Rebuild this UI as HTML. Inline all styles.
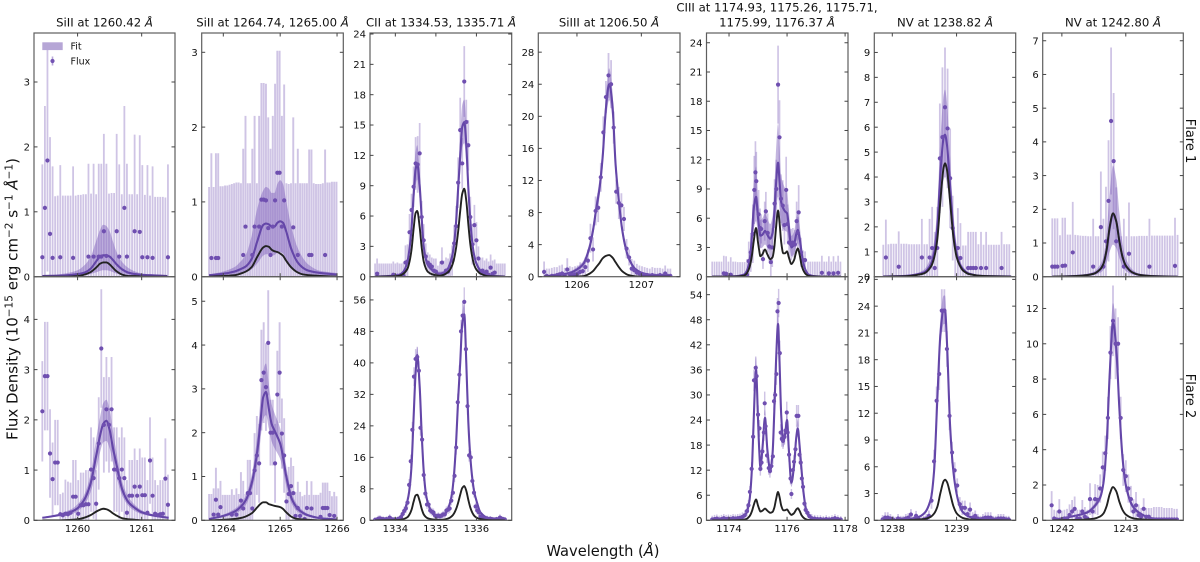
<!DOCTYPE html>
<html lang="en">
<head>
<meta charset="utf-8">
<title>Flare line profiles</title>
<style>
html,body{margin:0;padding:0;background:#fff;}
svg{display:block;font-family:"DejaVu Sans","Liberation Sans",sans-serif;filter:blur(.3px);}
.ttl{font-size:11.7px;text-anchor:middle;fill:#111;}
.lab{fill:#111;}
.tick{font-size:10px;fill:#111;}
</style>
</head>
<body>
<svg id="chart" xmlns="http://www.w3.org/2000/svg" width="1200" height="562" viewBox="0 0 1200 562">
<rect x="0" y="0" width="1200" height="562" fill="#fff"/>
<g id="panels"></g>
<text class="ttl" x="104.5" y="26.5">SiII at 1260.42 <tspan font-style="italic">Å</tspan></text>
<text class="ttl" x="272.5" y="26.5">SiII at 1264.74, 1265.00 <tspan font-style="italic">Å</tspan></text>
<text class="ttl" x="441" y="26.5">CII at 1334.53, 1335.71 <tspan font-style="italic">Å</tspan></text>
<text class="ttl" x="609" y="26.5">SiIII at 1206.50 <tspan font-style="italic">Å</tspan></text>
<text class="ttl" x="777" y="11.5">CIII at 1174.93, 1175.26, 1175.71,</text>
<text class="ttl" x="777" y="26.5">1175.99, 1176.37 <tspan font-style="italic">Å</tspan></text>
<text class="ttl" x="945" y="26.5">NV at 1238.82 <tspan font-style="italic">Å</tspan></text>
<text class="ttl" x="1113" y="26.5">NV at 1242.80 <tspan font-style="italic">Å</tspan></text>
<text class="lab" font-size="15" text-anchor="middle" transform="translate(17.5,299) rotate(-90)">Flux Density (10<tspan dy="-5" font-size="10.5">−15</tspan><tspan dy="5"> erg cm</tspan><tspan dy="-5" font-size="10.5">−2</tspan><tspan dy="5"> s</tspan><tspan dy="-5" font-size="10.5">−1</tspan><tspan dy="5"> </tspan><tspan font-style="italic">Å</tspan><tspan dy="-5" font-size="10.5">−1</tspan><tspan dy="5">)</tspan></text>
<text class="lab" font-size="14.65" text-anchor="middle" x="603" y="556">Wavelength (<tspan font-style="italic">Å</tspan>)</text>
<text class="lab" font-size="13" text-anchor="middle" transform="translate(1186,141) rotate(90)">Flare 1</text>
<text class="lab" font-size="13" text-anchor="middle" transform="translate(1186,396) rotate(90)">Flare 2</text>
<g>
<rect x="42.3" y="42.3" width="20.4" height="7.8" fill="#b6a6d6"/>
<text x="70.5" y="49.5" font-size="9.5" fill="#111">Fit</text>
<line x1="52.5" x2="52.5" y1="56.5" y2="65.5" stroke="#b9a9d8" stroke-width="1.6"/>
<circle cx="52.5" cy="61" r="2.1" fill="#7353b3"/>
<text x="70.5" y="64.5" font-size="9.5" fill="#111">Flux</text>
</g>
</svg>
<script>
/* ---------- Flare 1, SiII 1260.42 ---------- */
const r1p1Wave=[1259.45,1259.49,1259.53,1259.57,1259.61,1259.65,1259.69,1259.73,1259.77,1259.81,1259.85,1259.89,1259.93,1259.97,1260.01,1260.05,1260.09,1260.13,1260.17,1260.21,1260.25,1260.29,1260.33,1260.37,1260.41,1260.45,1260.49,1260.53,1260.57,1260.61,1260.65,1260.69,1260.73,1260.77,1260.81,1260.85,1260.89,1260.93,1260.97,1261.01,1261.05,1261.09,1261.13,1261.17,1261.21,1261.25,1261.29,1261.33,1261.37,1261.41];
const r1p1Flux=[.3,1.06,1.79,.66,.29,0,0,.3,0,0,0,0,.29,0,0,0,0,0,.31,0,.31,0,.31,.31,.7,.32,0,0,0,.7,.31,0,1.06,.31,0,0,.7,0,.69,.3,0,.3,0,.29,0,0,0,0,0,.3];
const r1p1Err=[1.43,1.57,1.71,1.49,1.41,1.24,1.25,1.42,1.25,1.25,1.25,1.25,1.41,1.25,1.26,1.26,1.27,1.27,1.43,1.28,1.43,1.27,1.43,1.43,1.5,1.42,1.28,1.29,1.29,1.5,1.42,1.27,1.57,1.43,1.27,1.27,1.49,1.27,1.49,1.42,1.26,1.42,1.25,1.41,1.23,1.23,1.23,1.23,1.22,1.43];
const r1p1FitWave=[1259.45,1259.8,1260,1260.1,1260.2,1260.3,1260.35,1260.4,1260.45,1260.5,1260.55,1260.6,1260.7,1260.8,1260.9,1261,1261.2,1261.4];
const r1p1Fit=[.01,.02,.04,.06,.12,.25,.31,.33,.33,.31,.26,.2,.11,.06,.04,.03,.02,.01];
const r1p1Hi=[.01,.05,.1,.17,.3,.58,.72,.8,.78,.7,.55,.4,.22,.13,.08,.05,.03,.02];
const r1p1Lo=[0,0,.01,.02,.04,.07,.09,.1,.1,.09,.07,.05,.03,.02,.01,0,0,0];
const r1p1Black=[0,0,.01,.03,.07,.15,.2,.22,.22,.19,.14,.09,.03,.01,.01,0,0,0];
/* ---------- Flare 1, SiII 1264.74/1265.00 ---------- */
const r1p2Wave=[1263.75,1263.79,1263.83,1263.87,1263.91,1263.95,1263.99,1264.03,1264.07,1264.11,1264.15,1264.19,1264.23,1264.27,1264.31,1264.35,1264.39,1264.43,1264.47,1264.51,1264.55,1264.59,1264.63,1264.67,1264.71,1264.75,1264.79,1264.83,1264.87,1264.91,1264.95,1264.99,1265.03,1265.07,1265.11,1265.15,1265.19,1265.23,1265.27,1265.31,1265.35,1265.39,1265.43,1265.47,1265.51,1265.55,1265.59,1265.63,1265.67,1265.71,1265.75,1265.79,1265.83,1265.87,1265.91,1265.95,1265.99];
const r1p2Flux=[0,.25,0,.25,.25,0,0,0,0,0,0,0,0,0,0,.29,.67,0,0,.29,.67,0,.67,1.03,1.03,1.02,.65,.29,.67,1.02,1.39,1.39,.67,1.02,0,0,0,.66,0,.29,0,0,0,0,.29,.29,0,0,0,0,0,.29,0,0,0,0,0];
const r1p2Err=[1.2,1.4,1.2,1.4,1.4,1.21,1.21,1.22,1.22,1.23,1.24,1.25,1.26,1.26,1.25,1.42,1.48,1.25,1.25,1.42,1.48,1.25,1.48,1.56,1.56,1.56,1.48,1.42,1.48,1.56,1.63,1.63,1.48,1.55,1.25,1.24,1.25,1.47,1.25,1.42,1.25,1.25,1.25,1.25,1.41,1.41,1.25,1.24,1.24,1.24,1.25,1.41,1.26,1.26,1.27,1.27,1.27];
const r1p2FitWave=[1263.75,1264,1264.2,1264.3,1264.4,1264.5,1264.6,1264.7,1264.75,1264.8,1264.85,1264.9,1264.95,1265,1265.05,1265.1,1265.2,1265.3,1265.4,1265.5,1265.7,1265.99];
const r1p2Fit=[.02,.04,.07,.1,.14,.24,.48,.69,.71,.7,.67,.67,.72,.74,.72,.62,.36,.2,.12,.08,.05,.03];
const r1p2Hi=[.03,.07,.13,.2,.3,.55,.92,1.15,1.2,1.18,1.12,1.12,1.24,1.29,1.24,1.04,.66,.4,.25,.16,.08,.05];
const r1p2Lo=[.01,.02,.03,.04,.06,.1,.18,.28,.3,.3,.28,.29,.32,.33,.31,.24,.13,.07,.04,.03,.01,.01];
const r1p2Black=[0,.01,.02,.04,.07,.13,.27,.39,.41,.4,.36,.34,.33,.31,.28,.22,.12,.06,.03,.02,.01,0];
/* ---------- CII shared model grid ---------- */
const c2FitWave=[1333.5,1334,1334.1,1334.2,1334.3,1334.35,1334.4,1334.45,1334.5,1334.54,1334.6,1334.65,1334.7,1334.75,1334.8,1334.9,1335,1335.1,1335.2,1335.3,1335.35,1335.4,1335.45,1335.5,1335.55,1335.6,1335.65,1335.7,1335.75,1335.8,1335.85,1335.9,1335.95,1336,1336.1,1336.3,1336.7];
const c2Black=[0,.05,.1,.3,.8,1.5,2.7,4.7,6.3,6.5,4.9,2.9,1.5,.85,.5,.25,.15,.1,.2,.45,.7,1.1,1.8,2.9,4.5,6.5,8.2,8.7,7.5,5.2,3.2,1.9,1.1,.7,.3,.05,0];
/* ---------- Flare 1, CII ---------- */
const r1p3Wave=[1333.5,1333.55,1333.6,1333.65,1333.7,1333.75,1333.8,1333.85,1333.9,1333.95,1334,1334.05,1334.1,1334.15,1334.2,1334.25,1334.3,1334.35,1334.4,1334.45,1334.5,1334.55,1334.6,1334.65,1334.7,1334.75,1334.8,1334.85,1334.9,1334.95,1335,1335.05,1335.1,1335.15,1335.2,1335.25,1335.3,1335.35,1335.4,1335.45,1335.5,1335.55,1335.6,1335.65,1335.7,1335.75,1335.8,1335.85,1335.9,1335.95,1336,1336.05,1336.1,1336.15,1336.2,1336.25,1336.3,1336.35,1336.4,1336.45,1336.5,1336.55,1336.6,1336.65,1336.7];
const r1p3Flux=[0,.3,0,0,0,0,0,0,0,.2,0,.1,0,0,.1,1.4,1.5,4.4,6.6,8.9,11.2,11.1,12.2,5.9,3.6,2,1.4,1.2,1,.6,.5,.1,.2,1.4,.3,.6,.5,1,1.6,3.3,5,9.3,14.5,11.2,19.3,15.3,13,5.9,3.2,5.1,3.6,1.8,.5,.6,.3,.5,.2,.9,.3,.4,0,0,0,0,0];
const r1p3Err=[1.3,1.5,1.3,1.3,1.3,1.3,1.3,1.3,1.3,1.3,1.3,1.3,1.3,1.3,1.3,1.7,1.7,1.8,1.6,2,2.6,2.8,3,1.6,1.6,1.3,1,1,.9,1.2,1.3,1,1.3,1.5,1.3,1.3,1.3,1.3,1.5,1.8,2,2.5,3.2,2.5,3.5,2.2,2.5,2,2,2,1.8,1.2,1.3,1.3,1.3,1.3,1.3,1.3,1.3,1.3,1.3,1.3,1.3,1.3,1.3];
const r1p3Fit=[.02,.1,.2,.5,1.5,2.8,4.8,8,10.6,11.2,9,5.8,3,1.8,1.2,.7,.4,.3,.4,.8,1.3,2,3.3,5.5,8.8,12,14.8,15.3,13,8.8,5.5,3.3,2,1.3,.6,.1,.02];
const r1p3Hi=[.04,.2,.3,.7,1.9,3.4,5.7,9.5,12.4,13,10.6,6.9,3.6,2.2,1.5,.9,.6,.5,.6,1.1,1.7,2.5,4,6.5,10.2,13.8,17,17.5,15,10.2,6.4,3.9,2.4,1.6,.8,.2,.04];
const r1p3Lo=[0,.05,.1,.35,1.2,2.3,4,6.7,9,9.6,7.6,4.8,2.5,1.4,.9,.5,.25,.15,.25,.55,1,1.6,2.7,4.6,7.5,10.3,12.8,13.2,11.1,7.5,4.6,2.7,1.6,1,.4,.05,.01];
/* ---------- Flare 1, SiIII ---------- */
const r1p4Wave=[1205.49,1205.53,1205.57,1205.61,1205.65,1205.69,1205.73,1205.77,1205.81,1205.85,1205.89,1205.93,1205.97,1206.01,1206.05,1206.09,1206.13,1206.17,1206.21,1206.25,1206.29,1206.33,1206.37,1206.41,1206.45,1206.49,1206.53,1206.57,1206.61,1206.65,1206.69,1206.73,1206.77,1206.81,1206.85,1206.89,1206.93,1206.97,1207.01,1207.05,1207.09,1207.13,1207.17,1207.21,1207.25,1207.29,1207.33,1207.37,1207.41,1207.45];
const r1p4Flux=[.6,.1,0,.1,.1,.2,.3,.4,.1,.9,.3,.2,.3,.4,.6,.7,1.2,2,4.8,3.4,8.2,8.6,12.4,18,22.4,25.1,24,18.6,10.6,9.2,8.9,7.2,3.5,2.4,1,.8,.5,.4,.3,.2,.2,.1,.2,.1,.1,.2,.1,.4,.1,.1];
const r1p4Err=[1.3,.9,1,1,1.1,1,1.1,1.1,1,1.4,1,1,1,1,1.2,1,1.2,1.4,1.8,1.5,1.8,1.8,1.8,2,2,2.8,3,2,1.5,2,1.5,1.5,1.2,1,1.2,1.2,1.1,1,1,1,.9,.9,1,1,1,.9,.9,1,.9,.9];
const r1p4FitWave=[1205.49,1205.7,1205.9,1206,1206.1,1206.2,1206.25,1206.3,1206.35,1206.4,1206.45,1206.5,1206.55,1206.6,1206.65,1206.7,1206.75,1206.8,1206.9,1207,1207.1,1207.3,1207.45];
const r1p4Fit=[.05,.2,.5,.9,1.6,3.8,5.8,8.5,11,15,21,24,21.5,14,9.5,6,3.8,2.4,1,.5,.3,.1,.05];
const r1p4Hi=[.08,.3,.7,1.2,2,4.4,6.6,9.5,12.2,16.5,22.7,26,23.3,15.5,10.5,6.8,4.4,2.8,1.2,.65,.4,.15,.08];
const r1p4Lo=[.03,.12,.35,.65,1.25,3.2,5.1,7.6,9.9,13.6,19.4,22,19.8,12.6,8.5,5.3,3.3,2,.8,.38,.2,.06,.02];
const r1p4Black=[0,0,0,.01,.06,.4,.7,1.2,1.7,2.3,2.6,2.7,2.4,1.8,1.2,.7,.4,.2,.05,0,0,0,0];
/* ---------- CIII shared model grid ---------- */
const c3FitWave=[1173.42,1174.2,1174.5,1174.6,1174.7,1174.75,1174.8,1174.85,1174.93,1175,1175.04,1175.08,1175.15,1175.24,1175.32,1175.42,1175.5,1175.56,1175.62,1175.69,1175.74,1175.8,1175.87,1175.93,1176,1176.06,1176.15,1176.24,1176.32,1176.37,1176.43,1176.5,1176.57,1176.65,1176.75,1176.9,1177.2,1177.85];
const c3Black=[0,.01,.1,.3,.9,1.5,2.4,3.6,5,3.5,2.7,2.1,2.3,2.8,2.3,1.8,2,3,5,6.8,5.6,3.5,2.4,2.4,2.6,2,1.3,1.7,2.6,2.9,2.3,1.2,.6,.25,.08,.02,0,0];
/* ---------- Flare 1, CIII ---------- */
const r1p5Wave=[1173.42,1173.5,1173.58,1173.66,1173.74,1173.82,1173.9,1173.98,1174.06,1174.14,1174.22,1174.3,1174.38,1174.46,1174.54,1174.62,1174.68,1174.75,1174.82,1174.87,1174.91,1174.94,1175.02,1175.07,1175.11,1175.17,1175.23,1175.27,1175.33,1175.39,1175.44,1175.49,1175.57,1175.63,1175.69,1175.74,1175.79,1175.85,1175.91,1175.97,1176.02,1176.07,1176.14,1176.2,1176.27,1176.33,1176.37,1176.4,1176.48,1176.55,1176.62,1176.72,1176.8,1176.88,1176.96,1177.04,1177.12,1177.2,1177.28,1177.36,1177.44,1177.52,1177.6,1177.68,1177.76,1177.84];
const r1p5Flux=[0,0,0,0,0,.35,.3,0,.2,0,0,0,0,0,0,.2,1.6,2.5,4.4,8.9,10.7,9.8,6.4,5,4.9,1.8,5.7,6.7,4.5,3.1,1.5,3,7.5,9,19.7,14.3,8,7.3,5.3,8.9,5.4,3.5,3.3,3.5,3.3,5.7,4.5,6.6,2.5,1.7,1.7,0,0,0,0,0,0,.4,0,0,.35,0,.35,0,.4,0];
const r1p5Err=[1.55,1.55,1.55,1.55,1.55,1.8,1.8,1.55,1.8,1.55,1.55,1.5,1.5,1.5,1.5,1.6,2,2,3,3.5,3.2,3,2.5,2,1.5,1,2,2,2,1.5,1.5,2,2.5,3,4,3.8,2.5,2.6,2,3.4,2,1.6,1.6,1.5,1.5,2,1.6,2.8,1.5,1,.9,1.55,1.55,1.55,1.55,1.55,1.55,1.75,1.55,1.55,1.75,1.55,1.75,1.55,1.75,1.55];
const r1p5Fit=[.01,.05,.2,.5,1.5,2.7,4.7,6.9,8.2,6,5,4.2,4.3,4.7,4.3,3.9,4.5,6.5,9.5,11.7,9.8,7.6,7,6.7,6.5,5.2,3,3.3,4.4,4.8,4,2.5,1.3,.6,.2,.07,.02,.01];
const r1p5Hi=[.02,.08,.3,.8,2.2,3.9,6.6,9.5,11.3,8.2,6.9,5.8,6,6.5,6,5.4,6.2,9,13,15.7,13.3,10.3,9.5,9.1,8.8,7,4.2,4.6,6,6.5,5.4,3.4,1.8,.8,.3,.1,.03,.01];
const r1p5Lo=[0,.03,.14,.35,1,1.9,3.3,4.8,5.7,4.2,3.5,2.9,3,3.3,3,2.7,3.2,4.6,6.7,8.2,6.9,5.3,4.9,4.7,4.6,3.6,2.1,2.3,3.1,3.4,2.8,1.8,.9,.4,.14,.05,.01,0];
/* ---------- NV 1238 shared model grid ---------- */
const n1FitWave=[1237.86,1238.2,1238.4,1238.5,1238.6,1238.65,1238.7,1238.75,1238.8,1238.82,1238.85,1238.9,1238.95,1239,1239.05,1239.1,1239.2,1239.4,1239.85];
const n1Black=[0,.02,.08,.14,.4,.75,1.5,3.1,4.4,4.55,4.3,3,1.6,.8,.45,.25,.1,.03,0];
/* ---------- Flare 1, NV 1238.82 ---------- */
const r1p6Wave=[1237.86,1237.9,1237.94,1237.98,1238.02,1238.06,1238.1,1238.14,1238.18,1238.22,1238.26,1238.3,1238.34,1238.38,1238.42,1238.46,1238.5,1238.54,1238.58,1238.62,1238.66,1238.7,1238.74,1238.78,1238.82,1238.86,1238.9,1238.94,1238.98,1239.02,1239.06,1239.1,1239.14,1239.18,1239.22,1239.26,1239.3,1239.34,1239.38,1239.42,1239.46,1239.5,1239.54,1239.58,1239.62,1239.66,1239.7,1239.74,1239.78,1239.82];
const r1p6Flux=[0,.77,0,0,0,0,.4,0,0,0,0,0,0,0,0,.77,0,0,.77,1.15,.35,1.15,4.75,5.6,6.8,5.95,3.95,1.95,0,1.15,.75,0,0,.35,.35,.35,.35,0,.35,0,.35,0,0,0,0,0,.35,0,0,0];
const r1p6Err=[1.28,1.52,1.3,1.32,1.32,1.32,1.42,1.32,1.32,1.32,1.3,1.3,1.3,1.3,1.3,1.55,1.3,1.3,1.55,1.65,1.45,1.65,2.2,2.8,2.4,2.4,2,1.3,1.3,1.6,1.4,1.25,1.25,1.45,1.45,1.45,1.45,1.3,1.45,1.28,1.45,1.28,1.28,1.28,1.28,1.28,1.45,1.3,1.3,1.3];
const r1p6Fit=[.01,.03,.1,.18,.5,.95,2,4.2,5.6,5.7,5.3,3.6,1.9,.95,.5,.3,.12,.03,.01];
const r1p6Hi=[.02,.05,.16,.3,.8,1.4,2.8,5.6,7.3,7.5,7,4.8,2.6,1.3,.7,.4,.16,.05,.01];
const r1p6Lo=[.01,.02,.06,.1,.3,.6,1.3,3,3.9,4,3.8,2.6,1.4,.7,.35,.2,.08,.02,0];
/* ---------- NV 1242 shared model grid ---------- */
const n2FitWave=[1241.85,1242.2,1242.4,1242.5,1242.6,1242.65,1242.7,1242.75,1242.8,1242.85,1242.9,1242.95,1243,1243.1,1243.2,1243.4,1243.81];
const n2Black=[0,.02,.05,.09,.22,.38,.8,1.5,1.88,1.65,1.05,.58,.33,.13,.06,.02,0];
/* ---------- Flare 1, NV 1242.80 ---------- */
const r1p7Wave=[1241.85,1241.89,1241.93,1241.97,1242.01,1242.05,1242.09,1242.13,1242.17,1242.21,1242.25,1242.29,1242.33,1242.37,1242.41,1242.45,1242.49,1242.53,1242.57,1242.61,1242.65,1242.69,1242.73,1242.77,1242.81,1242.85,1242.89,1242.93,1242.97,1243.01,1243.05,1243.09,1243.13,1243.17,1243.21,1243.25,1243.29,1243.33,1243.37,1243.41,1243.45,1243.49,1243.53,1243.57,1243.61,1243.65,1243.69,1243.73,1243.77,1243.81];
const r1p7Flux=[.3,.3,.3,0,.32,.33,0,0,.72,0,0,0,0,0,0,0,.3,0,0,1.47,.3,1.05,2.25,4.62,3.43,1.05,0,0,.3,0,.68,0,0,0,0,0,0,0,.3,0,0,0,0,0,0,0,0,0,.32,0];
const r1p7Err=[1.43,1.43,1.43,1.23,1.43,1.42,1.25,1.25,1.5,1.24,1.23,1.22,1.21,1.21,1.2,1.2,1.42,1.2,1.2,1.65,1.42,1.62,1.8,2.18,2.02,1.6,1.2,1.2,1.42,1.2,1.52,1.2,1.2,1.2,1.21,1.21,1.21,1.21,1.42,1.22,1.22,1.22,1.22,1.22,1.22,1.22,1.22,1.22,1.43,1.24];
const r1p7Fit=[0,.02,.05,.09,.22,.38,.78,1.45,1.85,1.65,1.05,.58,.33,.13,.06,.02,0];
const r1p7Hi=[0,.03,.09,.15,.36,.6,1.3,2.5,3.3,2.9,1.9,1,.55,.22,.1,.03,0];
const r1p7Lo=[0,.01,.03,.05,.12,.2,.42,.75,.95,.85,.55,.3,.17,.07,.03,.01,0];
/* ---------- Flare 2, SiII 1260.42 ---------- */
const r2p1Flux=[2.17,2.87,2.87,1.33,.82,1.15,1.15,.12,.1,.13,.12,.15,.47,.47,.13,.3,.3,.32,.32,1.01,.84,.33,1.53,3.42,1.9,2.21,1.9,2.21,1.01,1.01,.84,1.01,.84,.15,.49,.49,.67,.49,.67,.5,.5,.15,1.19,.49,.13,.1,.12,.13,.83,.31];
const r2p1Err=[1,1.08,1.08,.88,.73,.85,.85,.4,.45,.68,.65,.6,.73,.73,.67,.65,.65,.68,.68,.84,.81,.67,.92,1.18,.95,1.04,.95,1.04,.84,.84,.81,.84,.81,.65,.71,.71,.76,.71,.76,.75,.75,.65,.86,.76,.67,.6,.68,.67,.8,.6];
const r2p1FitWave=[1259.45,1259.7,1259.9,1260,1260.1,1260.2,1260.3,1260.35,1260.4,1260.45,1260.5,1260.55,1260.6,1260.7,1260.8,1260.9,1261,1261.2,1261.42];
const r2p1Fit=[.05,.1,.17,.24,.4,.72,1.35,1.68,1.92,1.98,1.8,1.45,1.15,.6,.35,.24,.16,.09,.05];
const r2p1Hi=[.06,.13,.22,.32,.5,.9,1.7,2.05,2.33,2.4,2.2,1.8,1.4,.75,.45,.3,.2,.11,.07];
const r2p1Lo=[.04,.08,.12,.18,.3,.55,1.05,1.35,1.55,1.58,1.43,1.15,.9,.48,.28,.18,.12,.07,.03];
const r2p1Black=[0,0,.01,.02,.05,.1,.18,.21,.23,.22,.19,.14,.1,.04,.02,.01,0,0,0];
/* ---------- Flare 2, SiII 1264.74/1265.00 ---------- */
const r2p2Flux=[0,0,.13,.47,.13,.3,0,0,0,0,.13,0,.13,0,.45,.27,0,.62,.62,.27,1.14,1.48,1.3,3.2,3.37,3.04,4.05,2,2,1.3,2.87,3.37,1.98,1.48,.43,.6,.78,.62,.1,.28,.1,0,.03,.28,0,.27,0,0,0,.08,.28,.28,.28,.12,0,.1,0];
const r2p2Err=[.6,.6,.6,.73,.6,.6,.58,.58,.58,.58,.58,.58,.6,.6,.65,.63,.6,.76,.76,.63,.85,.9,.9,1.15,1.15,1,1.2,.75,.75,.9,1,1.15,.8,.85,.6,.62,.65,.62,.55,.6,.55,.55,.55,.62,.58,.62,.58,.58,.58,.55,.58,.58,.58,.55,.55,.55,.55];
const r2p2FitWave=[1263.75,1264,1264.2,1264.3,1264.4,1264.5,1264.6,1264.65,1264.7,1264.75,1264.8,1264.85,1264.9,1265,1265.05,1265.1,1265.15,1265.2,1265.3,1265.4,1265.5,1265.7,1265.99];
const r2p2Fit=[.03,.1,.2,.3,.47,.85,1.6,2.2,2.8,2.93,2.55,2.2,2.05,1.75,1.45,1.05,.75,.5,.28,.17,.11,.05,.02];
const r2p2Hi=[.04,.13,.26,.38,.58,1.05,1.95,2.7,3.4,3.58,3.1,2.65,2.45,2.1,1.75,1.3,.93,.63,.36,.22,.14,.07,.03];
const r2p2Lo=[.02,.07,.15,.22,.36,.68,1.28,1.8,2.3,2.4,2.1,1.8,1.65,1.4,1.15,.82,.58,.38,.2,.12,.08,.03,.01];
const r2p2Black=[0,.01,.03,.05,.09,.16,.3,.37,.41,.41,.37,.35,.33,.3,.26,.19,.13,.08,.03,.02,.01,0,0];
/* ---------- Flare 2, CII ---------- */
const r2p3Wave=[1333.5,1333.54,1333.58,1333.62,1333.66,1333.7,1333.74,1333.78,1333.82,1333.86,1333.9,1333.94,1333.98,1334.02,1334.06,1334.1,1334.14,1334.18,1334.22,1334.26,1334.3,1334.34,1334.38,1334.42,1334.46,1334.5,1334.54,1334.58,1334.62,1334.66,1334.7,1334.74,1334.78,1334.82,1334.86,1334.9,1334.94,1334.98,1335.02,1335.06,1335.1,1335.14,1335.18,1335.22,1335.26,1335.3,1335.34,1335.38,1335.42,1335.46,1335.5,1335.54,1335.58,1335.62,1335.66,1335.7,1335.74,1335.78,1335.82,1335.86,1335.9,1335.94,1335.98,1336.02,1336.06,1336.1,1336.14,1336.18,1336.22,1336.26,1336.3,1336.34,1336.38,1336.42,1336.46,1336.5,1336.54,1336.58,1336.62,1336.66,1336.7];
const r2p3Flux=[.1,.1,.4,.5,.3,.3,.2,.3,.1,.7,.3,.2,.2,.1,.3,.4,.8,1.6,2.4,3,4.5,9,15,23,36.5,41,41.5,38,23.5,20.5,11.5,6.8,4,4,2.5,2.2,2,1.2,1,1.2,1,1.2,1.5,1.5,2.5,2.7,3,5,7,11.3,18.5,30,37,48,52,55.5,43.5,29,16.5,16,10,7,3.5,2.5,2,1,.8,.6,.5,.5,.3,.4,.3,.2,.2,.3,.2,.7,.4,.3,.2];
const r2p3Err=[.7,.7,.8,.8,.7,.7,.6,.7,.6,.8,.7,.6,.6,.6,.7,.7,.8,1,1.1,1.2,1.3,1.5,1.7,2,2.4,2.5,2.6,2.4,2,1.8,1.5,1.2,1.1,1.1,1,1,1,.8,.8,.8,.8,.8,.9,.9,1,1.1,1.1,1.2,1.4,1.6,1.8,2.2,2.4,2.9,3.2,3.7,2.8,2.2,1.6,1.6,1.4,1.2,1,1,1,.8,.7,.7,.7,.7,.6,.7,.6,.6,.6,.6,.6,.8,.7,.6,.6];
const r2p3Fit=[.05,.3,.7,2,5,8,14,26,37.5,42,34,22,12.5,7,4.5,2,1,1,1.3,3,4.5,7,12,20,31,40,50,52.3,40,25,16,10.5,7,5,2,.5,.1];
const r2p3Hi=[.1,.4,.9,2.4,5.7,9,15.2,28,39.5,44,36,23.5,13.5,7.8,5,2.3,1.2,1.2,1.6,3.5,5.2,8,13.2,21.5,33,42.5,52.5,55,42.5,26.8,17.2,11.5,7.8,5.6,2.3,.6,.15];
const r2p3Lo=[.02,.2,.5,1.6,4.3,7,12.8,24,35.5,40,32,20.5,11.5,6.2,4,1.7,.8,.8,1,2.5,3.8,6,10.8,18.5,29,37.5,47.5,49.6,37.5,23.2,14.8,9.5,6.2,4.4,1.7,.4,.05];
/* ---------- Flare 2, CIII ---------- */
const r2p5Wave=[1173.42,1173.5,1173.58,1173.66,1173.74,1173.82,1173.9,1173.98,1174.06,1174.14,1174.22,1174.3,1174.38,1174.46,1174.54,1174.62,1174.67,1174.72,1174.78,1174.83,1174.86,1174.92,1174.95,1175,1175.05,1175.08,1175.12,1175.15,1175.2,1175.23,1175.26,1175.31,1175.37,1175.41,1175.46,1175.51,1175.55,1175.59,1175.63,1175.67,1175.71,1175.75,1175.78,1175.82,1175.86,1175.91,1175.95,1175.99,1176.02,1176.07,1176.12,1176.15,1176.2,1176.24,1176.29,1176.33,1176.39,1176.43,1176.47,1176.51,1176.55,1176.6,1176.64,1176.7,1176.77,1176.85,1176.95,1177.05,1177.15,1177.25,1177.35,1177.45,1177.55,1177.65,1177.75,1177.85];
const r2p5Flux=[.2,.3,.4,.2,.3,.5,.3,.4,.3,.5,.4,.5,.6,.8,1.2,2.2,3.6,6.8,12.3,20,33.5,36.5,34.5,25.3,22,12.3,13.8,16.5,21,28,22.5,15.5,12.5,11.8,13,15.3,28.5,30,35,50,52,40,21,19.5,19,20,21.5,25.8,21,15.7,10,6.3,12,14,17,25,25,15.7,13.8,10,8,4,2.5,1.8,1,.5,.4,.3,.3,.2,.3,.2,.3,.5,.3,.2];
const r2p5Err=[.9,1,1,.9,1,1,1,1,1,1,1,1,1,1.1,1.2,1.3,1.3,1.4,1.6,1.8,2.6,2.7,2.6,2.2,2,1.6,1.7,1.8,2,2.8,2.2,1.8,1.6,1.6,1.6,1.8,2.2,2.3,2.6,3.2,3.4,3,2,1.9,1.9,1.9,2,2.6,2,1.7,1.4,1.2,1.5,1.6,1.8,2.6,2.6,1.8,1.6,1.4,1.2,1,1,.9,.9,1,.9,.9,.9,.8,.9,.8,.9,1,.9,.8];
const r2p5Fit=[.05,.2,.8,1.8,4.5,8,14,24,36,24,17,12.8,17,24.5,17,12,16,26,38,47,38,25,19,20.5,24,17,9,13,20,22,18,12,6.5,2.8,1,.4,.1,.05];
const r2p5Hi=[.1,.3,1,2.1,5,8.8,15.4,26,39,26,18.5,14,18.5,26.5,18.5,13,17.5,28,41,51,41,27,20.5,22,26,18.5,10,14.5,21.6,24,19.5,13,7.2,3.2,1.2,.5,.15,.08];
const r2p5Lo=[.02,.1,.6,1.5,4,7.2,12.7,22,33,22,15.5,11.6,15.5,22.5,15.5,11,14.5,24,35,43,35,23,17.5,19,22,15.5,8,11.5,18.4,20,16.5,11,5.8,2.4,.8,.3,.05,.02];
/* ---------- Flare 2, NV 1238.82 ---------- */
const r2p6Wave=[1237.85,1237.89,1237.93,1237.97,1238.01,1238.05,1238.09,1238.13,1238.17,1238.21,1238.25,1238.29,1238.33,1238.37,1238.41,1238.45,1238.49,1238.53,1238.57,1238.61,1238.65,1238.69,1238.73,1238.77,1238.81,1238.85,1238.89,1238.93,1238.97,1239.01,1239.05,1239.09,1239.13,1239.17,1239.21,1239.25,1239.29,1239.33,1239.37,1239.41,1239.45,1239.49,1239.53,1239.57,1239.61,1239.65,1239.69,1239.73,1239.77,1239.81];
const r2p6Flux=[.1,.3,.3,.2,.1,0,.2,.1,.1,.2,.3,.65,.1,.5,.1,0,.1,.2,.5,2.2,6.6,13.4,16.4,23.5,23.5,19.2,11.7,7.6,5.6,3.9,1.8,1.4,1.4,.7,1.2,.3,.5,.2,.1,.2,.3,.3,.3,.1,.1,.2,.2,.2,.1,.1];
const r2p6Err=[.5,.6,.6,.5,.4,.4,.5,.4,.4,.5,.5,.6,.4,.55,.4,.4,.4,.5,.6,.9,1.3,1.6,1.8,2.4,2.4,2,1.6,1.2,.9,.8,.8,.8,.8,.7,.8,.6,.6,.5,.4,.5,.6,.6,.6,.4,.4,.5,.5,.5,.4,.4];
const r2p6Fit=[.02,.1,.35,.8,2.4,5.5,13.5,21,23.6,23.6,20,10.5,5.5,3,1.6,.9,.4,.1,.02];
const r2p6Hi=[.03,.13,.45,1,2.8,6.3,14.7,22.8,25.2,25.2,21.6,11.5,6.2,3.4,1.9,1.1,.5,.13,.03];
const r2p6Lo=[.01,.07,.28,.65,2,4.8,12.4,19.4,22,22,18.5,9.5,4.9,2.6,1.3,.7,.3,.07,.01];
/* ---------- Flare 2, NV 1242.80 ---------- */
const r2p7Wave=[1241.84,1241.88,1241.92,1241.96,1242,1242.04,1242.08,1242.12,1242.16,1242.2,1242.24,1242.28,1242.32,1242.36,1242.4,1242.44,1242.48,1242.52,1242.56,1242.6,1242.64,1242.68,1242.72,1242.76,1242.8,1242.84,1242.88,1242.92,1242.96,1243,1243.04,1243.08,1243.12,1243.16,1243.2,1243.24,1243.28,1243.32,1243.36,1243.4,1243.44,1243.48,1243.52,1243.56,1243.6,1243.64,1243.68,1243.72,1243.76,1243.8];
const r2p7Flux=[.85,.1,.05,.5,.05,.1,.1,.3,.5,.65,.1,.1,.5,.2,.1,1.2,.5,1.2,1.15,1.8,3,3.8,5.8,9.5,11.3,10,10,5.8,2.85,2.5,1.8,1.2,.5,.85,.3,.2,.65,.2,.2,.05,.05,.05,.05,.05,.05,.05,.05,.05,.05,.05];
const r2p7Err=[.8,.5,.5,.7,.5,.5,.55,.6,.65,.7,.5,.5,.65,.55,.5,.9,.7,.85,.85,.8,.9,1,1.2,1.5,2,2,1.5,1.2,.9,.9,.8,.75,.7,.75,.6,.5,.6,.5,.5,.65,.7,.7,.7,.7,.65,.65,.65,.65,.6,.6];
const r2p7Fit=[.02,.25,.45,.75,1.3,2.1,4.3,8.4,11.2,9.8,6.3,3.5,2,.85,.45,.12,.02];
const r2p7Hi=[.03,.3,.55,.9,1.5,2.4,4.9,9.4,12.3,10.9,7,3.9,2.3,1,.55,.15,.03];
const r2p7Lo=[.01,.2,.37,.63,1.1,1.8,3.7,7.4,10.1,8.8,5.6,3.1,1.7,.7,.37,.1,.01];
/* ---------- tick labels ---------- */
const ticksSi2a=[1260,1261];
const ticksSi2b=[1264,1265,1266];
const ticksC2=[1334,1335,1336];
const ticksSi3=[1206,1207];
const ticksC3=[1174,1176,1178];
const ticksN1=[1238,1239];
const ticksN2=[1242,1243];
const yR1P1=[0,1,2,3];
const yR1P2=[0,1,2,3];
const yR1P3=[0,3,6,9,12,15,18,21,24];
const yR1P4=[0,4,8,12,16,20,24,28];
const yR1P5=[0,3,6,9,12,15,18,21,24];
const yR1P6=[0,1,2,3,4,5,6,7,8,9];
const yR1P7=[0,1,2,3,4,5,6,7];
const yR2P1=[0,1,2,3,4];
const yR2P2=[0,1,2,3,4,5];
const yR2P3=[0,8,16,24,32,40,48,56];
const yR2P5=[0,6,12,18,24,30,36,42,48,54];
const yR2P6=[0,3,6,9,12,15,18,21,24,27];
const yR2P7=[0,2,4,6,8,10,12];

const columnFrames=[[34,175],[201.7,343.3],[370,511.7],[538.3,680],[706.5,848],[874.3,1015.7],[1042.7,1183.3]];
const rowFrames=[[33,276.7],[276.7,520.3]];

const panels=[
{key:'flare1-si2-1260',row:0,col:0,xMin:1259.32,xMax:1261.52,yMax:3.755,xt:ticksSi2a,yt:yR1P1,labelX:false,w:r1p1Wave,f:r1p1Flux,e:r1p1Err,fw:r1p1FitWave,fit:r1p1Fit,hi:r1p1Hi,lo:r1p1Lo,bk:r1p1Black},
{key:'flare1-si2-1265',row:0,col:1,xMin:1263.62,xMax:1266.11,yMax:3.258,xt:ticksSi2b,yt:yR1P2,labelX:false,w:r1p2Wave,f:r1p2Flux,e:r1p2Err,fw:r1p2FitWave,fit:r1p2Fit,hi:r1p2Hi,lo:r1p2Lo,bk:r1p2Black},
{key:'flare1-c2',row:0,col:2,xMin:1333.375,xMax:1336.87,yMax:24.1,xt:ticksC2,yt:yR1P3,labelX:false,w:r1p3Wave,f:r1p3Flux,e:r1p3Err,fw:c2FitWave,fit:r1p3Fit,hi:r1p3Hi,lo:r1p3Lo,bk:c2Black},
{key:'flare1-si3',row:0,col:3,xMin:1205.4,xMax:1207.6,yMax:30.39,xt:ticksSi3,yt:yR1P4,labelX:true,w:r1p4Wave,f:r1p4Flux,e:r1p4Err,fw:r1p4FitWave,fit:r1p4Fit,hi:r1p4Hi,lo:r1p4Lo,bk:r1p4Black},
{key:'flare1-c3',row:0,col:4,xMin:1173.224,xMax:1178.1,yMax:25,xt:ticksC3,yt:yR1P5,labelX:false,w:r1p5Wave,f:r1p5Flux,e:r1p5Err,fw:c3FitWave,fit:r1p5Fit,hi:r1p5Hi,lo:r1p5Lo,bk:c3Black},
{key:'flare1-n5-1238',row:0,col:5,xMin:1237.72,xMax:1239.92,yMax:9.78,xt:ticksN1,yt:yR1P6,labelX:false,w:r1p6Wave,f:r1p6Flux,e:r1p6Err,fw:n1FitWave,fit:r1p6Fit,hi:r1p6Hi,lo:r1p6Lo,bk:n1Black},
{key:'flare1-n5-1242',row:0,col:6,xMin:1241.7,xMax:1243.9,yMax:7.23,xt:ticksN2,yt:yR1P7,labelX:false,w:r1p7Wave,f:r1p7Flux,e:r1p7Err,fw:n2FitWave,fit:r1p7Fit,hi:r1p7Hi,lo:r1p7Lo,bk:n2Black},
{key:'flare2-si2-1260',row:1,col:0,xMin:1259.32,xMax:1261.52,yMax:4.85,xt:ticksSi2a,yt:yR2P1,labelX:true,w:r1p1Wave,f:r2p1Flux,e:r2p1Err,fw:r2p1FitWave,fit:r2p1Fit,hi:r2p1Hi,lo:r2p1Lo,bk:r2p1Black},
{key:'flare2-si2-1265',row:1,col:1,xMin:1263.62,xMax:1266.11,yMax:5.56,xt:ticksSi2b,yt:yR2P2,labelX:true,w:r1p2Wave,f:r2p2Flux,e:r2p2Err,fw:r2p2FitWave,fit:r2p2Fit,hi:r2p2Hi,lo:r2p2Lo,bk:r2p2Black},
{key:'flare2-c2',row:1,col:2,xMin:1333.375,xMax:1336.87,yMax:61.9,xt:ticksC2,yt:yR2P3,labelX:true,w:r2p3Wave,f:r2p3Flux,e:r2p3Err,fw:c2FitWave,fit:r2p3Fit,hi:r2p3Hi,lo:r2p3Lo,bk:c2Black},
{key:'flare2-c3',row:1,col:4,xMin:1173.224,xMax:1178.1,yMax:58.3,xt:ticksC3,yt:yR2P5,labelX:true,w:r2p5Wave,f:r2p5Flux,e:r2p5Err,fw:c3FitWave,fit:r2p5Fit,hi:r2p5Hi,lo:r2p5Lo,bk:c3Black},
{key:'flare2-n5-1238',row:1,col:5,xMin:1237.72,xMax:1239.92,yMax:27.3,xt:ticksN1,yt:yR2P6,labelX:true,w:r2p6Wave,f:r2p6Flux,e:r2p6Err,fw:n1FitWave,fit:r2p6Fit,hi:r2p6Hi,lo:r2p6Lo,bk:n1Black},
{key:'flare2-n5-1242',row:1,col:6,xMin:1241.7,xMax:1243.9,yMax:13.8,xt:ticksN2,yt:yR2P7,labelX:true,w:r2p7Wave,f:r2p7Flux,e:r2p7Err,fw:n2FitWave,fit:r2p7Fit,hi:r2p7Hi,lo:r2p7Lo,bk:n2Black}
];

const NS='http://www.w3.org/2000/svg';
const root=document.getElementById('panels');

function mk(tag,parent,attrs){
  const el=document.createElementNS(NS,tag);
  for(const k in attrs){el.setAttribute(k,attrs[k]);}
  parent.appendChild(el);
  return el;
}
function segments(pts){
  const n=pts.length,d=[],m=[];
  for(let i=0;i<n-1;i++){d.push((pts[i+1][1]-pts[i][1])/(pts[i+1][0]-pts[i][0]));}
  m[0]=d[0];m[n-1]=d[n-2];
  for(let i=1;i<n-1;i++){
    m[i]=d[i-1]*d[i]<=0?0:2*d[i-1]*d[i]/(d[i-1]+d[i]);
  }
  let s='';
  for(let i=0;i<n-1;i++){
    const dx=pts[i+1][0]-pts[i][0];
    s+='C'+(pts[i][0]+dx/3).toFixed(2)+' '+(pts[i][1]+m[i]*dx/3).toFixed(2)+' '+
       (pts[i+1][0]-dx/3).toFixed(2)+' '+(pts[i+1][1]-m[i+1]*dx/3).toFixed(2)+' '+
       pts[i+1][0].toFixed(2)+' '+pts[i+1][1].toFixed(2);
  }
  return s;
}

panels.forEach(function(p,idx){
  const L=columnFrames[p.col][0],R=columnFrames[p.col][1];
  const T=rowFrames[p.row][0],B=rowFrames[p.row][1];
  const sx=function(v){return L+(v-p.xMin)/(p.xMax-p.xMin)*(R-L);};
  const sy=function(v){return B-v/p.yMax*(B-T);};

  const g=mk('g',root,{});
  
  

  const cp=mk('clipPath',g,{id:'clip'+idx});
  mk('rect',cp,{x:L,y:T,width:R-L,height:B-T});
  const plot=mk('g',g,{'clip-path':'url(#clip'+idx+')'});

  /* error bars */
  const spacing=(sx(p.w[p.w.length-1])-sx(p.w[0]))/(p.w.length-1);
  const barW=spacing<2.5?spacing*.85:1.8;
  const bars=mk('g',plot,{stroke:'#7a5cb8','stroke-opacity':'.36','stroke-width':barW.toFixed(2)});
  
  
  p.w.forEach(function(w,i){
    const bar=mk('line',bars,{x1:sx(w).toFixed(2),x2:sx(w).toFixed(2),y1:sy(p.f[i]-p.e[i]).toFixed(2),y2:sy(p.f[i]+p.e[i]).toFixed(2)});
    
    
  });

  /* fit band */
  const upper=p.fw.map(function(w,i){return [sx(w),sy(p.hi[i])];});
  const lower=p.fw.map(function(w,i){return [sx(w),sy(p.lo[i])];}).reverse();
  const band=mk('path',plot,{d:'M'+upper[0][0].toFixed(2)+' '+upper[0][1].toFixed(2)+segments(upper)+'L'+lower[0][0].toFixed(2)+' '+lower[0][1].toFixed(2)+segments(lower)+'Z',fill:'#7a5cb8','fill-opacity':'.45'});
  
  

  /* fit line */
  const fitPts=p.fw.map(function(w,i){return [sx(w),sy(p.fit[i])];});
  const fitLine=mk('path',plot,{d:'M'+fitPts[0][0].toFixed(2)+' '+fitPts[0][1].toFixed(2)+segments(fitPts),fill:'none',stroke:'#6446a8','stroke-width':'2.1'});
  
  

  /* flux points */
  const dots=mk('g',plot,{fill:'#6f4fb0'});
  
  
  p.w.forEach(function(w,i){
    if(p.f[i]>0){
      const dot=mk('circle',dots,{cx:sx(w).toFixed(2),cy:sy(p.f[i]).toFixed(2),r:'2.1'});
      
      
    }
  });

  /* black component */
  const bkPts=p.fw.map(function(w,i){return [sx(w),sy(p.bk[i])];});
  const bkLine=mk('path',plot,{d:'M'+bkPts[0][0].toFixed(2)+' '+bkPts[0][1].toFixed(2)+segments(bkPts),fill:'none',stroke:'#222','stroke-width':'1.9'});
  
  

  /* frame */
  const frame=mk('rect',g,{x:L,y:T,width:R-L,height:B-T,fill:'none',stroke:'#5e5e5e','stroke-width':'1.2'});
  
  

  /* ticks */
  p.xt.forEach(function(v){
    const x=sx(v).toFixed(2);
    const t1=mk('line',g,{x1:x,x2:x,y1:B,y2:B-3.5,stroke:'#444','stroke-width':'1'});
    
    
    const t2=mk('line',g,{x1:x,x2:x,y1:T,y2:T+3.5,stroke:'#444','stroke-width':'1'});
    
    
    if(p.labelX){
      const lb=mk('text',g,{x:x,y:B+11.5,'text-anchor':'middle','class':'tick'});
      
      
      lb.textContent=v;
    }
  });
  p.yt.forEach(function(v){
    const y=sy(v).toFixed(2);
    const t1=mk('line',g,{x1:L,x2:L+3.5,y1:y,y2:y,stroke:'#444','stroke-width':'1'});
    
    
    const t2=mk('line',g,{x1:R,x2:R-3.5,y1:y,y2:y,stroke:'#444','stroke-width':'1'});
    
    
    const lb=mk('text',g,{x:L-4,y:(parseFloat(y)+3.7).toFixed(2),'text-anchor':'end','class':'tick'});
    
    
    lb.textContent=v;
  });
});
</script>
</body>
</html>
